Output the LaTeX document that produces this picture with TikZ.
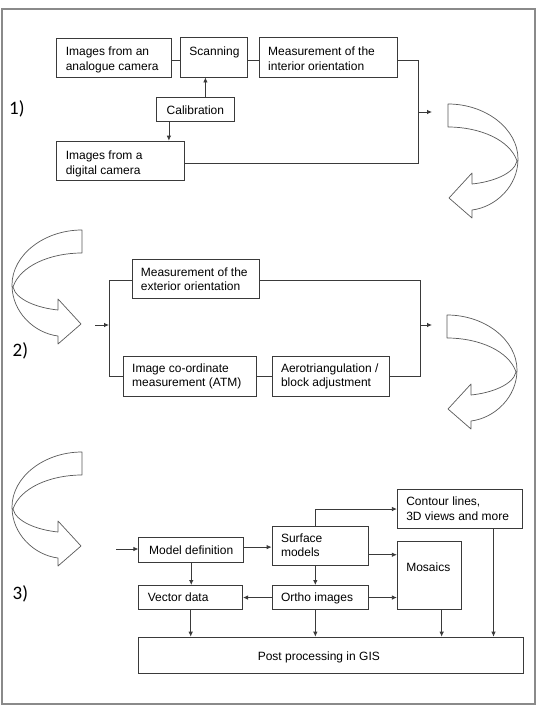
\documentclass[tikz,border=0pt]{standalone}
\usepackage{fontspec}
\setmainfont{Liberation Sans}
\newfontfamily\labfont{Carlito}
\usetikzlibrary{arrows.meta}
\definecolor{boxcol}{HTML}{3A3A3A}
\definecolor{framecol}{HTML}{8A8A8A}
\definecolor{flowcol}{HTML}{5A5A5A}
\newcommand\bxt[4]{\parbox[c][#2pt][t]{#1pt}{\vspace*{#3pt}\leftskip=9pt\rightskip=0pt plus 4em\parindent=0pt\strut #4\par}}
\newcommand\cbt[4]{\parbox[c][#2pt][t]{#1pt}{\vspace*{#3pt}\centering\strut #4\par}}
\newcommand\flowarrow[1]{%
  \begin{scope}[#1]
  \draw[draw=flowcol,line width=0.7pt,fill=white,line join=round]
    (0,0) .. controls (38,0) and (70,25) .. (70,55)
    .. controls (70,82) and (48,103) .. (24,106)
    -- (24,114) -- (1,94) -- (24,69) -- (24,80)
    .. controls (44,78) and (66,70) .. (69,57)
    .. controls (62,36) and (32,23) .. (0,23) -- cycle;
  \end{scope}}
\begin{document}
\begin{tikzpicture}[x=1pt,y=-1pt,
  box/.style={draw=boxcol,line width=0.8pt,inner sep=0pt,anchor=north west,font=\fontsize{12}{14.3}\selectfont},
  ln/.style={draw=boxcol,line width=0.8pt},
  ar/.style={ln,-{Latex[length=5pt,width=4.5pt]}},
  lab/.style={font=\labfont\fontsize{19}{22}\selectfont,anchor=west,inner sep=0pt}]
\useasboundingbox (0,0) rectangle (542,708);
\fill[white] (0,0) rectangle (542,708);
\draw[draw=framecol,line width=1.2pt] (2,9) rectangle (535,704);

% ---------- section 1
\node[lab] (l1) at (9,109) {1)};
\node[box] (ana) at (56.4,38.3) {\bxt{114.2}{38.4}{7}{Images from an\\analogue camera}};
\node[box] (scan) at (180,37.5) {\bxt{66.7}{39.2}{7.8}{Scanning}};
\node[box] (intr) at (258.8,37.5) {\bxt{138.1}{39.2}{7.8}{Measurement of the\\interior orientation}};
\node[box] (cal) at (156.4,96.7) {\cbt{77.2}{24.3}{7.6}{Calibration}};
\node[box] (dig) at (56.4,140.7) {\bxt{128}{39.3}{8.6}{Images from a\\digital camera}};

\coordinate (c1) at (418,60);
\coordinate (c2) at (418,163);
\coordinate (j1) at (418,112);
\coordinate (o1) at (432,112);
\draw[ln] ([yshift=-2.5pt]ana.east) -- ([yshift=-2.5pt]ana.east -| scan.west);
\draw[ln] ([yshift=-2.5pt]scan.east) -- ([yshift=-2.5pt]scan.east -| intr.west);
\draw[ln] (intr.east |- c1) -- (c1) -- (c2) -- (dig.east |- c2);
\draw[ar] (j1) -- (o1);
\draw[ar] ([xshift=10pt]cal.north) -- ([xshift=10pt]cal.north |- scan.south);
\draw[ar] ([xshift=-26.5pt]cal.south) -- ([xshift=-26.5pt]cal.south |- dig.north);

\flowarrow{shift={(448,104)}}

% ---------- section 2
\flowarrow{shift={(82,230)},xscale=-1}
\node[lab] (l2) at (12.5,351) {2)};
\node[box] (ext) at (131.5,259) {\bxt{127.3}{39.3}{7}{Measurement of the\\exterior orientation}};
\node[box] (img) at (122.8,356) {\bxt{133.2}{40}{6}{Image co-ordinate\\measurement (ATM)}};
\node[box] (aero) at (271.6,356) {\bxt{117.7}{40}{6}{Aerotriangulation /\\block adjustment}};

\coordinate (L1) at (109,280);
\coordinate (L2) at (109,376);
\coordinate (R1) at (420,280);
\coordinate (R2) at (420,376);
\coordinate (i2) at (95,325);
\coordinate (i2e) at (109,325);
\coordinate (j2) at (420,325);
\coordinate (o2) at (432,325);
\draw[ln] (ext.west |- L1) -- (L1) -- (L2) -- (img.west |- L2);
\draw[ln] (ext.east |- R1) -- (R1) -- (R2) -- (aero.east |- R2);
\draw[ln] (img.east |- L2) -- (aero.west |- L2);
\draw[ar] (i2) -- (i2e);
\draw[ar] (j2) -- (o2);

\flowarrow{shift={(447,315)}}

% ---------- section 3
\flowarrow{shift={(82,452)},xscale=-1}
\node[lab] (l3) at (12.5,594) {3)};
\node[box] (cont) at (396.9,489) {\bxt{124.6}{39.3}{6.3}{Contour lines,\\3D views and more}};
\node[box] (surf) at (271.6,525.7) {\bxt{95.9}{39.3}{6.3}{Surface\\models}};
\node[box] (model) at (138.4,536.7) {\cbt{104.9}{25}{6.9}{Model definition}};
\node[box] (mos) at (396.9,540.7) {\bxt{64.3}{68.6}{20.6}{Mosaics}};
\node[box] (vec) at (138.4,585) {\bxt{103.8}{24.3}{6}{Vector data}};
\node[box] (orth) at (271.6,585) {\bxt{95.9}{24.3}{6}{Ortho images}};
\node[box] (post) at (138.4,636.7) {\parbox[c][36.6pt][t]{384.8pt}{\vspace*{13.6pt}\leftskip=119pt\parindent=0pt\strut Post processing in GIS\par}};

\coordinate (i3) at (116,549);
\draw[ar] (i3) -- (i3 -| model.west);
\draw[ar] ([yshift=2.5pt]model.east) -- ([yshift=2.5pt]model.east -| surf.west);
\draw[ar] ([xshift=-4.6pt]surf.north) |- (cont.west);
\draw[ar] ([yshift=-9pt]surf.east) -- ([yshift=-9pt]surf.east -| mos.west);
\draw[ar] ([xshift=-4.6pt]surf.south) -- ([xshift=-4.6pt]orth.north);
\draw[ar] (model.south) -- (model.south |- vec.north);
\draw[ar] (orth.west) -- (orth.west -| vec.east);
\draw[ar] (orth.east) -- (orth.east -| mos.west);
\draw[ar] (vec.south) -- (vec.south |- post.north);
\draw[ar] ([xshift=-4.6pt]orth.south) -- ([xshift=-4.6pt]orth.south |- post.north);
\draw[ar] ([xshift=12.2pt]mos.south) -- ([xshift=12.2pt]mos.south |- post.north);
\draw[ar] ([xshift=33.9pt]cont.south) -- ([xshift=33.9pt]cont.south |- post.north);
\end{tikzpicture}
\end{document}
